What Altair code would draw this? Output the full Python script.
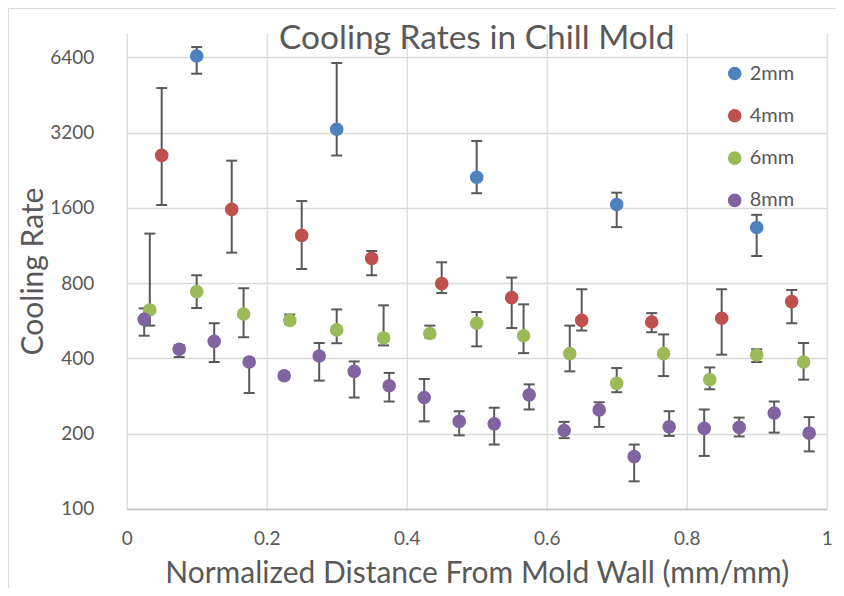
import altair as alt
import pandas as pd

series_names = ["2mm", "4mm", "6mm", "8mm"]
series_colors = ["#4F81BD", "#C0504D", "#9BBB59", "#8064A2"]

x_2mm = [0.1, 0.3, 0.5, 0.7, 0.9]
rate_2mm = [6470, 3300, 2120, 1650, 1335]
lo_2mm = [5500, 2590, 1830, 1340, 1027]
hi_2mm = [7030, 6070, 2960, 1840, 1500]

x_4mm = [0.05, 0.15, 0.25, 0.35, 0.45, 0.55, 0.65, 0.75, 0.85, 0.95]
rate_4mm = [2594, 1578, 1242, 1005, 796, 700, 568, 559, 579, 675]
lo_4mm = [1642, 1059, 911, 860, 730, 529, 517, 509, 414, 553]
hi_4mm = [4820, 2470, 1703, 1075, 969, 842, 756, 607, 756, 751]

x_6mm = [0.033, 0.1, 0.167, 0.233, 0.3, 0.367, 0.433, 0.5, 0.567, 0.633,
         0.7, 0.767, 0.833, 0.9, 0.967]
rate_6mm = [625, 740, 602, 568, 520, 483, 503, 553, 493, 418, 318, 418, 329, 413, 387]
lo_6mm = [541, 636, 486, 550, 460, 451, 485, 447, 420, 355, 293, 340, 301, 387, 329]
hi_6mm = [1262, 860, 763, 599, 628, 652, 541, 613, 658, 541, 366, 499, 368, 435, 461]

x_8mm = [0.025, 0.075, 0.125, 0.175, 0.225, 0.275, 0.325, 0.375, 0.425, 0.475,
         0.525, 0.575, 0.625, 0.675, 0.725, 0.775, 0.825, 0.875, 0.925, 0.975]
rate_8mm = [573, 435, 468, 387, 341, 409, 355, 311, 279, 224,
            219, 286, 206, 249, 162, 213, 210, 212, 242, 201]
lo_8mm = [493, 405, 387, 291, 330, 326, 279, 269, 224, 197,
          181, 250, 192, 213, 129, 196, 163, 195, 202, 170]
hi_8mm = [634, 452, 553, 400, 352, 461, 389, 350, 331, 246,
          254, 315, 223, 267, 181, 246, 250, 232, 269, 233]

x_ticks = [0, 0.2, 0.4, 0.6, 0.8, 1]
y_ticks = [100, 200, 400, 800, 1600, 3200, 6400]

rows = []
for name, xs, rs, los, his in [
    ("2mm", x_2mm, rate_2mm, lo_2mm, hi_2mm),
    ("4mm", x_4mm, rate_4mm, lo_4mm, hi_4mm),
    ("6mm", x_6mm, rate_6mm, lo_6mm, hi_6mm),
    ("8mm", x_8mm, rate_8mm, lo_8mm, hi_8mm),
]:
    for xv, rv, lv, hv in zip(xs, rs, los, his):
        rows.append({"series": name, "x": xv, "rate": rv, "lo": lv, "hi": hv})
df = pd.DataFrame(rows)
df["order"] = range(len(df))

FONT = "Lato"
GRAY = "#595959"
W, H = 700, 476

xscale = alt.Scale(domain=[0, 1], nice=False)
yscale = alt.Scale(type="log", base=2, domain=[100, 8000], nice=False)

xaxis = alt.Axis(values=x_ticks, format="~g", title="Normalized Distance From Mold Wall (mm/mm)",
                 grid=True, gridColor="#D9D9D9", gridWidth=1.3,
                 domain=True, domainColor="#BFBFBF", domainWidth=1.5,
                 ticks=False, tickSize=0, labelPadding=21, labelFontSize=19, labelFlush=False,
                 labelColor=GRAY, labelFont=FONT, titleFont=FONT, titleFontSize=30,
                 titleFontWeight="normal", titleColor=GRAY,
                 titleBaseline="alphabetic", titleY=74, titleX=W / 2)
yaxis = alt.Axis(values=y_ticks, format="d", title="Cooling Rate",
                 grid=True, gridColor="#D9D9D9", gridWidth=1.3,
                 domain=False, ticks=False, tickSize=0, labelPadding=33, labelFontSize=19,
                 labelColor=GRAY, labelFont=FONT, titleFont=FONT, titleFontSize=30,
                 titleFontWeight="normal", titleColor=GRAY,
                 titleBaseline="alphabetic", titleX=-84, titleY=H / 2, titleAngle=270)

X = alt.X("x:Q", scale=xscale, axis=xaxis)

base = alt.Chart(df)

bars = base.mark_rule(color=GRAY, strokeWidth=2).encode(
    x=X, y=alt.Y("lo:Q", scale=yscale, axis=yaxis), y2="hi:Q")
cap_lo = base.mark_tick(orient="horizontal", color=GRAY, size=11, thickness=2, opacity=1).encode(
    x=X, y=alt.Y("lo:Q", scale=yscale, axis=yaxis))
cap_hi = base.mark_tick(orient="horizontal", color=GRAY, size=11, thickness=2, opacity=1).encode(
    x=X, y=alt.Y("hi:Q", scale=yscale, axis=yaxis))

points = base.mark_circle(size=185, opacity=1).encode(
    x=X,
    y=alt.Y("rate:Q", scale=yscale, axis=yaxis),
    color=alt.Color("series:N",
                    scale=alt.Scale(domain=series_names, range=series_colors),
                    legend=alt.Legend(title=None, orient="none", legendX=598, legendY=30.5,
                                      symbolType="circle", symbolSize=185, symbolStrokeWidth=0,
                                      labelFont=FONT, labelFontSize=20, labelColor=GRAY,
                                      rowPadding=22.3, labelOffset=5, padding=0)),
    order="order:Q",
)

title_text = alt.Chart(pd.DataFrame({"t": ["Cooling Rates in Chill Mold"]})).mark_text(
    font=FONT, fontSize=33.5, color=GRAY, align="center", baseline="alphabetic"
).encode(x=alt.value(W / 2), y=alt.value(15.5), text="t:N")

frame = pd.DataFrame({"a": [0]})
border_left = alt.Chart(frame).mark_rule(color="#D9D9D9", strokeWidth=1).encode(
    x=alt.value(-118.2), y=alt.value(-24.5), y2=alt.value(1000))
border_top = alt.Chart(frame).mark_rule(color="#D9D9D9", strokeWidth=1).encode(
    x=alt.value(-118.2), x2=alt.value(1000), y=alt.value(-24.5))

chart = alt.layer(border_left, border_top, bars, cap_lo, cap_hi, points, title_text).properties(
    width=W, height=H,
    autosize=alt.AutoSizeParams(type="none"),
    padding={"left": 118.7, "top": 25, "right": 9, "bottom": 79},
).configure_view(strokeWidth=0)

chart.save("out.html", embed_options={"renderer": "svg", "actions": False})
